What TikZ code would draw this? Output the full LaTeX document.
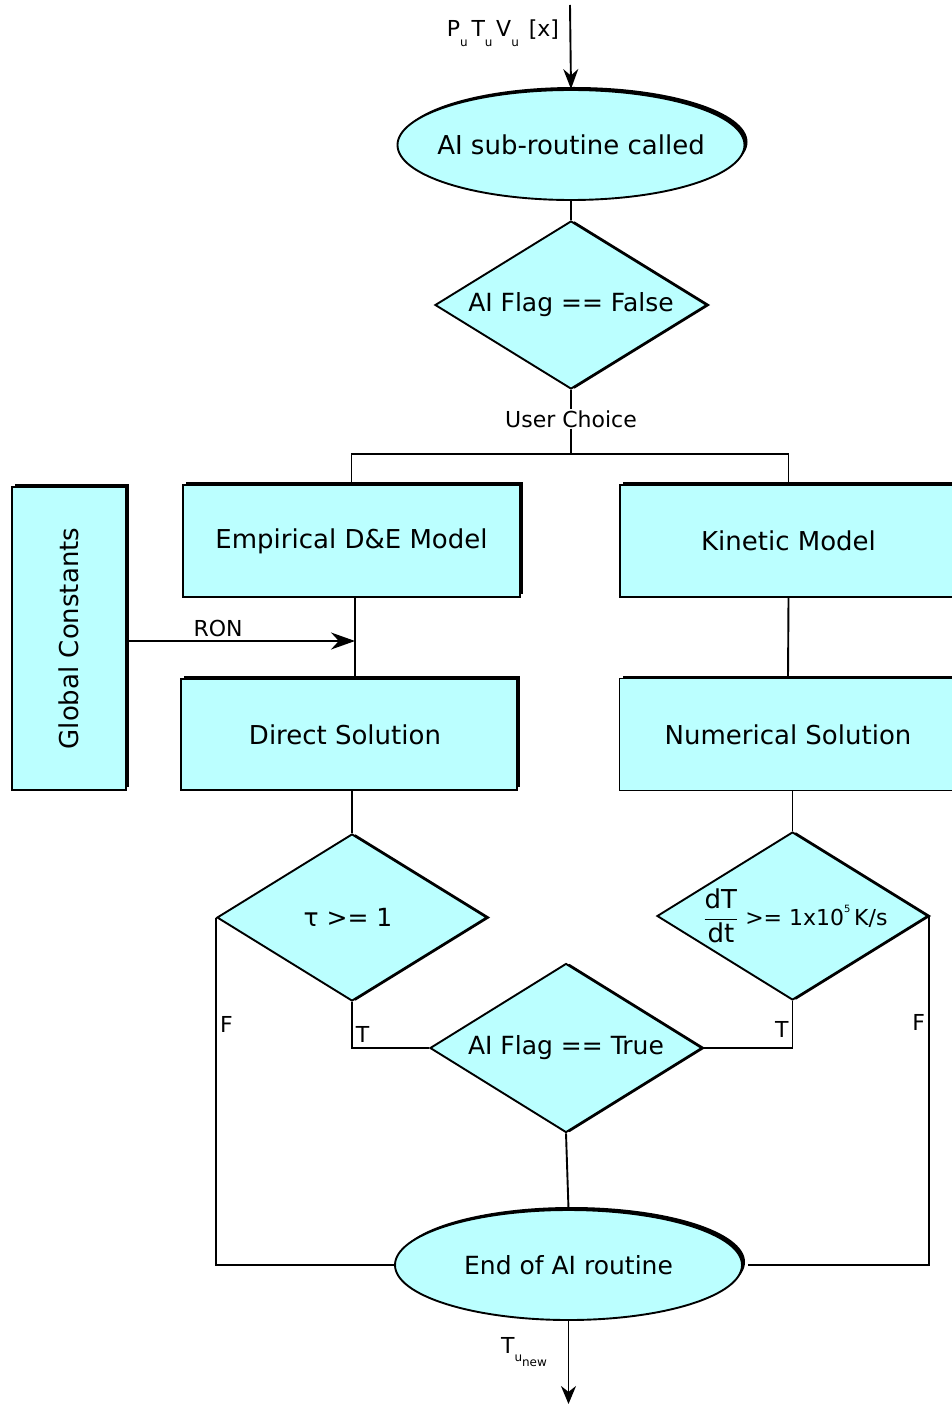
\documentclass[tikz,border=0pt]{standalone}
\usepackage{fontspec}
\setmainfont{DejaVu Sans}
\usepackage{graphicx}
\usetikzlibrary{shapes.geometric,shadows,arrows.meta,positioning}
\definecolor{flowcyan}{RGB}{187,255,255}
\newcommand{\subu}[1]{\raisebox{-0.45em}{\fontsize{12}{12}\selectfont #1}}
\tikzset{
    base/.style={draw, fill=flowcyan, line width=1.9pt, inner sep=0pt},
    block/.style={base, rectangle, minimum width=337pt, minimum height=112pt,
        font=\fontsize{26}{31}\selectfont,
        drop shadow={shadow xshift=3pt, shadow yshift=3pt, shadow scale=1, fill=black, opacity=1}},
    decision/.style={base, diamond, minimum width=272pt, minimum height=168pt,
        font=\fontsize{25}{30}\selectfont,
        drop shadow={shadow xshift=3.5pt, shadow yshift=0pt, shadow scale=1, fill=black, opacity=1}},
    terminal/.style={base, ellipse, minimum width=347pt, minimum height=110pt,
        font=\fontsize{25}{30}\selectfont,
        drop shadow={shadow xshift=3pt, shadow yshift=3pt, shadow scale=1, fill=black, opacity=1}},
    flow/.style={line width=1.9pt},
    lbl/.style={font=\fontsize{22}{26}\selectfont, inner sep=3pt},
}
\begin{document}
\begin{tikzpicture}[x=1pt, y=-1pt]
        \useasboundingbox (0,0) rectangle (952,1404);
        \clip (0,0) rectangle (952,1404);

        \node[terminal, font=\fontsize{26}{31}\selectfont] (start) at (571,145) {\makebox[0pt]{AI sub-routine called}};
        \node[decision] (flagF) at (571,305) {\makebox[0pt]{AI Flag == False}};
        \node[lbl, fill=white, inner sep=1pt] (choice) at (571,419) {User Choice};
        \coordinate (split) at (571,454);

        \node[block] (emp) at (351.5,541) {Empirical D\&E Model};
        \node[block] (kin) at (788.5,541) {Kinetic Model};
        \node[block, minimum width=114pt, minimum height=303pt] (glob) at (69,638.5) {\rotatebox{90}{Global Constants}};
        \node[block, minimum width=336pt, minimum height=111pt] (direct) at (349,734.5) {\hspace{-8pt}Direct Solution};
        \node[block] (num) at (788,734.5) {Numerical Solution};

        \node[decision, minimum width=270pt, minimum height=167pt] (tau) at (352,917.5) {\makebox[0pt]{\hspace{-8pt}τ >= 1}};
        \node[decision, minimum width=271pt] (rate) at (792.5,916) {\makebox[0pt]{\hspace{6pt}\(\displaystyle\frac{\mbox{\fontsize{26}{26}\selectfont dT}}{\mbox{\fontsize{26}{26}\selectfont dt}}\)\fontsize{22}{26}\selectfont\ >= 1x10\raisebox{0.6em}{\fontsize{10}{10}\selectfont 5}\,K/s}};
        \node[decision, minimum height=169pt] (flagT) at (566,1048) {\makebox[0pt]{AI Flag == True}};
        \node[terminal] (stop) at (568.5,1265) {\makebox[0pt]{End of AI routine}};

        \coordinate (in) at (570,5);
        \coordinate (out) at (568.5,1404);
        \coordinate (ron) at (355,641);

        \draw[flow,-{Stealth[length=20pt,width=15pt]}] (in) -- (start.north);
        \node[lbl] (vars) at (503,33) {P\subu{u}\,T\subu{u}\,V\subu{u}\hspace{10pt}[x]};
        \draw[flow] (start) -- (flagF);
        \draw[flow] (flagF.south) -- (choice.north);
        \draw[flow] (choice.south) -- (split);
        \draw[flow] (emp.north) |- (split) -| (kin.north);

        \draw[flow] (ron |- emp.south) -- (ron |- direct.north);
        \draw[flow,-{Stealth[length=24pt,width=17pt]}] (glob.east |- ron) -- node[lbl, above, pos=0.4] {RON} (ron);
        \draw[flow] (kin.south) -- (num.north);

        \draw[flow] (tau.north |- direct.south) -- (tau.north);
        \draw[flow] (rate.north |- num.south) -- (rate.north);

        \draw[flow] (tau.south) |- node[lbl, right, pos=0.35] {T} (flagT.west);
        \draw[flow] (rate.south) |- node[lbl, left, pos=0.3] {T} (flagT.east);
        \draw[flow] (tau.west) |- node[lbl, right, pos=0.154] {F} (stop.west);
        \draw[flow, shorten >=5pt] (rate.east) |- node[lbl, left, pos=0.153] {F} (stop.east);
        \draw[flow] (flagT.south) -- (stop.north);

        \draw[flow,-{Stealth[length=18pt,width=15pt]}] (stop.south) -- (out);
        \node[lbl] (tnew) at (524,1352) {T\raisebox{-0.35em}{\fontsize{12}{12}\selectfont u\raisebox{-0.45em}{new}}};
    \end{tikzpicture}
\end{document}
